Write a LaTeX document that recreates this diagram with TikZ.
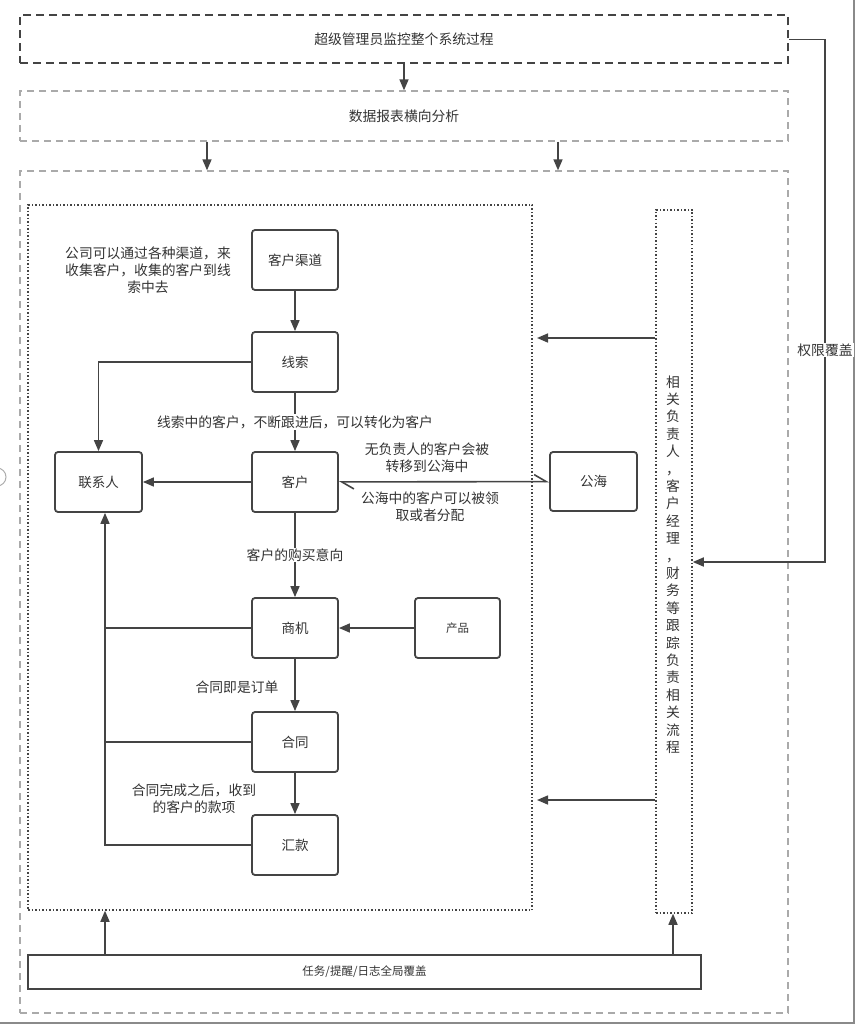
\documentclass[tikz,border=0pt]{standalone}
\usepackage{fontspec}
\newfontfamily\cjk{Noto Sans CJK SC}
\usetikzlibrary{arrows.meta,calc}
\definecolor{dk}{HTML}{444444}
\definecolor{txt}{HTML}{333333}
\definecolor{lg}{HTML}{AAAAAA}
\definecolor{framec}{HTML}{8A8A8A}
\begin{document}
\begin{tikzpicture}[x=1pt,y=-1pt,
  box/.style={draw=dk,line width=1.8pt,rounded corners=3pt,minimum width=86pt,minimum height=60pt,inner sep=0pt,font=\cjk\fontsize{13.5}{16}\selectfont,text=txt,fill=white},
  conn/.style={draw=dk,line width=1.6pt,-{Triangle[length=11pt,width=9pt]}},
  plain/.style={draw=dk,line width=1.6pt},
  harp/.style={draw=dk,line width=1.6pt,{Straight Barb[harpoon,length=12pt,width=14pt]}-{Straight Barb[harpoon,length=12pt,width=14pt]}},
  lbl/.style={font=\cjk\fontsize{13.8}{17.3}\selectfont,text=txt,align=center,inner sep=1pt},
  topbox/.style={draw=dk,line width=2pt,dash pattern=on 8pt off 5pt,font=\cjk\fontsize{13.8}{16}\selectfont,text=txt},
  greybox/.style={draw=lg,line width=1.3pt,dash pattern=on 7pt off 5pt,font=\cjk\fontsize{13.8}{16}\selectfont,text=txt},
  dotbox/.style={draw=dk,line width=1.5pt,dash pattern=on 1.5pt off 2pt}
]
\useasboundingbox (0,0) rectangle (855,1024);
% frame of screenshot
\draw[framec,line width=1.5pt] (854,0) -- (854,1023) -- (0,1023);
\draw[framec!70,line width=1pt] (-3,477) circle (9);

% containers
\node[topbox,minimum width=768pt,minimum height=48pt] (top) at (404,39.5) {超级管理员监控整个系统过程};
\node[greybox,minimum width=768pt,minimum height=50pt] (ana) at (404,116) {数据报表横向分析};
\node[greybox,minimum width=768pt,minimum height=842pt] (outer) at (404,592) {};
\node[dotbox,minimum width=504pt,minimum height=705pt] (inner) at (280,557.5) {};
\node[dotbox,minimum width=36pt,minimum height=703pt] (rd) at (674,561.5) {};
\node[lbl,font=\cjk\fontsize{13.8}{17.4}\selectfont] (vt) at (673,564.5) {相\\关\\负\\责\\人\\，\\客\\户\\经\\理\\，\\财\\务\\等\\跟\\踪\\负\\责\\相\\关\\流\\程};
\node[draw=dk,line width=1.8pt,minimum width=673pt,minimum height=34pt,font=\cjk\fontsize{11.5}{14}\selectfont,text=txt] (bar) at (364.5,972) {任务/提醒/日志全局覆盖};

% flow nodes
\node[box] (qd) at (295,260) {客户渠道};
\node[box] (xs) at (295,362) {线索};
\node[box] (kh) at (295,482) {客户};
\node[box,minimum width=87pt] (lx) at (98.5,482) {联系人};
\node[box,minimum width=87pt,minimum height=59pt] (gh) at (593.5,481.5) {公海};
\node[box] (sj) at (295,628) {商机};
\node[box,minimum width=85pt,font=\cjk\fontsize{11.5}{14}\selectfont] (cp) at (457.5,628) {产品};
\node[box] (ht) at (295,742) {合同};
\node[box] (hk) at (295,845) {汇款};

% top connectors
\draw[conn] (top.south) -- (ana.north);
\draw[conn] (ana.south -| 207,0) -- (outer.north -| 207,0);
\draw[conn] (ana.south -| 558,0) -- (outer.north -| 558,0);
\coordinate (rt) at (825,39.5);
\draw[conn] (top.east) -- (rt) |- (rd.east |- 0,562);
\node[lbl,fill=white] (qx) at (825,350) {权限覆盖};

% right box to inner box
\coordinate (a1) at (537,338);
\coordinate (a2) at (537,800);
\draw[conn] (rd.west |- a1) -- (a1);
\draw[conn] (rd.west |- a2) -- (a2);

% bottom bar arrows
\draw[conn] (bar.north -| 105,0) -- (inner.south -| 105,0);
\draw[conn] (bar.north -| 673,0) -- (rd.south -| 673,0);

% flow connectors
\draw[conn] (qd) -- (xs);
\draw[conn] (xs.west) -| (lx.north);
\draw[conn] (xs) -- (kh) node[lbl,fill=white,midway] (t1) {线索中的客户，不断跟进后，可以转化为客户};
\draw[conn] (kh) -- (lx);
\draw[harp] (kh) -- (gh);
\draw[conn] (kh) -- (sj) node[lbl,fill=white,midway] (t2) {客户的购买意向};
\draw[conn] (cp) -- (sj);
\draw[conn] (sj) -- (ht);
\draw[conn] (ht) -- (hk);
\draw[conn] (hk.west) -| ([xshift=6.5pt]lx.south);
\draw[plain] (sj.west) -- (sj.west -| 105,0);
\draw[plain] (ht.west) -- (ht.west -| 105,0);

% labels
\node[lbl] (l1) at (148,270) {公司可以通过各种渠道，来\\收集客户，收集的客户到线\\索中去};
\node[lbl] (l2) at (427,458) {无负责人的客户会被\\转移到公海中};
\node[lbl] (l3) at (430,507) {公海中的客户可以被领\\取或者分配};
\node[lbl] (l4) at (237,687) {合同即是订单};
\node[lbl] (l5) at (194,799) {合同完成之后，收到\\的客户的款项};
\end{tikzpicture}
\end{document}
